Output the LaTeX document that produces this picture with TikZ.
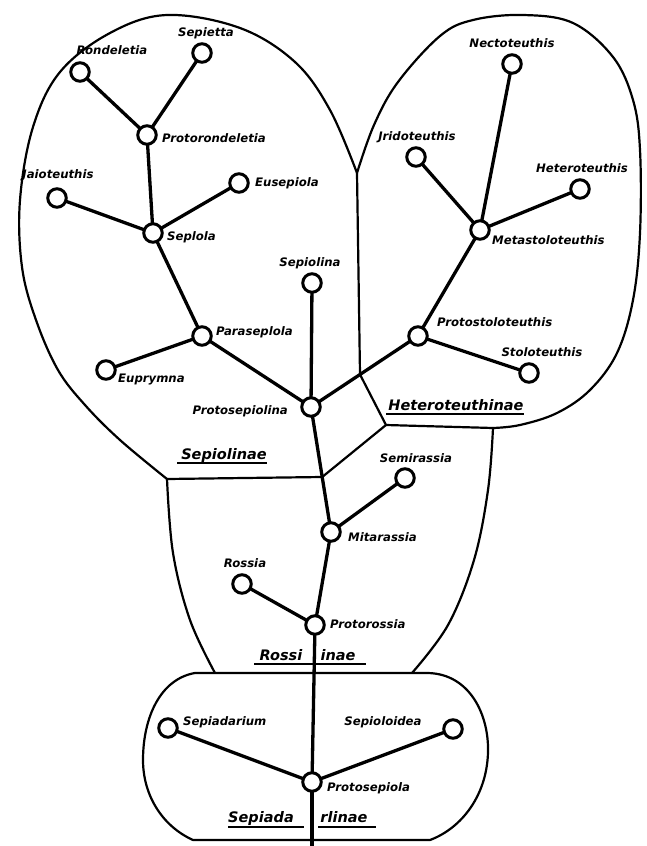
\documentclass[tikz,border=0pt]{standalone}
\usepackage{fontspec}
\setmainfont{DejaVu Sans}
\usetikzlibrary{calc}
\begin{document}
\begin{tikzpicture}[x=1pt,y=-1pt,
  taxon/.style={circle, draw, fill=white, line width=3pt, minimum size=18.5pt, inner sep=0pt},
  edge/.style={line width=3.3pt},
  bound/.style={line width=2.2pt, line join=round},
  lbl/.style={font=\fontsize{11.7}{13}\selectfont\bfseries\itshape, inner sep=0pt},
  grp/.style={font=\fontsize{14.5}{16}\selectfont\bfseries\itshape, inner sep=0pt, anchor=base},
  uline/.style={line width=2.2pt}]
\useasboundingbox (0,0) rectangle (646,846);
\fill[white] (0,0) rectangle (646,846);

% ---- taxa (positions) ----
\coordinate (ronP) at (80,72);
\coordinate (sepP) at (202,53);
\coordinate (prrP) at (147,135);
\coordinate (jaiP) at (57,198);
\coordinate (eusP) at (239,183);
\coordinate (splP) at (153,233);
\coordinate (snaP) at (312,283);
\coordinate (parP) at (202,336);
\coordinate (eupP) at (106,370);
\coordinate (pslP) at (311,407);
\coordinate (necP) at (512,64);
\coordinate (jriP) at (416,157);
\coordinate (hetP) at (580,189);
\coordinate (metP) at (480,230);
\coordinate (pstP) at (418,336);
\coordinate (stoP) at (529,373);
\coordinate (semP) at (405,478);
\coordinate (mitP) at (331,532);
\coordinate (rosP) at (242,584);
\coordinate (proP) at (315,625);
\coordinate (sdrP) at (168,728);
\coordinate (sdiP) at (453,729);
\coordinate (pseP) at (312,782);
\coordinate (bot) at (312,846);

% ---- region boundaries ----
\coordinate (cusp) at (357,173);
\coordinate (J2) at ($(pslP)!0.458!(pstP)$);
\coordinate (J3) at (386,425);
\coordinate (J4) at (493,428);
\coordinate (J1) at ($(pslP)!0.56!(mitP)$);
\coordinate (C1) at (167,479);

\draw[bound] plot[smooth, tension=0.6] coordinates {(167,479) (120,440) (85,405) (58,370) (36,320) (22,267) (20,200) (33,127) (60,72) (110,33) (167,15) (240,28) (295,62) (330,110) (357,173)};
\draw[bound] plot[smooth, tension=0.6] coordinates {(357,173) (374,125) (398,82) (440,36) (473,20) (523,15) (573,23) (613,57) (633,100) (640,150) (640,233) (633,300) (617,353) (590,390) (557,413) (520,425) (493,428)};
\draw[bound] (cusp) -- (J2);
\draw[bound] (J2) -- (J3) -- (J4);
\draw[bound] (J3) -- (J1);
\draw[bound] (C1) -- (J1);
\draw[bound] plot[smooth, tension=0.6] coordinates {(167,479) (173,553) (190,620) (215,673)};
\draw[bound] plot[smooth, tension=0.6] coordinates {(493,428) (488,490) (474,560) (448,625) (412,673)};
\draw[bound] (195,673) -- (428,673) .. controls (470,674) and (489,715) .. (488,752)
  .. controls (487,795) and (462,828) .. (430,840) -- (193,840)
  .. controls (162,826) and (143,795) .. (143,760)
  .. controls (143,718) and (160,679) .. (195,673) -- cycle;

% ---- edges ----
\draw[edge] (ronP) -- (prrP);
\draw[edge] (sepP) -- (prrP);
\draw[edge] (prrP) -- (splP);
\draw[edge] (jaiP) -- (splP);
\draw[edge] (eusP) -- (splP);
\draw[edge] (splP) -- (parP);
\draw[edge] (eupP) -- (parP);
\draw[edge] (parP) -- (pslP);
\draw[edge] (snaP) -- (pslP);
\draw[edge] (pslP) -- (pstP);
\draw[edge] (pstP) -- (metP);
\draw[edge] (metP) -- (necP);
\draw[edge] (metP) -- (jriP);
\draw[edge] (metP) -- (hetP);
\draw[edge] (pstP) -- (stoP);
\draw[edge] (pslP) -- (mitP);
\draw[edge] (semP) -- (mitP);
\draw[edge] (mitP) -- (proP);
\draw[edge] (rosP) -- (proP);
\draw[edge] (proP) -- (pseP);
\draw[edge] (sdrP) -- (pseP);
\draw[edge] (sdiP) -- (pseP);
\draw[edge] (pseP) -- (bot);

% ---- circles ----
\foreach \n in {ron,sep,prr,jai,eus,spl,sna,par,eup,psl,nec,jri,het,met,pst,sto,sem,mit,ros,pro,sdr,sdi,pse}
  \node[taxon] (\n) at (\n P) {};

% ---- labels ----
\node[lbl] (tRon) at (112,50) {Rondeletia};
\node[lbl] (tSep) at (206,33) {Sepietta};
\node[lbl, anchor=west] (tPrr) at (162,138) {Protorondeletia};
\node[lbl] (tJai) at (58,175) {Jaioteuthis};
\node[lbl, anchor=west] (tEus) at (255,183) {Eusepiola};
\node[lbl, anchor=west] (tSpl) at (167,237) {Seplola};
\node[lbl] (tSna) at (310,263) {Sepiolina};
\node[lbl, anchor=west] (tPar) at (216,332) {Paraseplola};
\node[lbl, anchor=west] (tEup) at (118,379) {Euprymna};
\node[lbl, anchor=east] (tPsl) at (288,411) {Protosepiolina};
\node[lbl] (tNec) at (512,43) {Nectoteuthis};
\node[lbl] (tJri) at (417,137) {Jridoteuthis};
\node[lbl] (tHet) at (582,168) {Heteroteuthis};
\node[lbl, anchor=west] (tMet) at (492,240) {Metastoloteuthis};
\node[lbl, anchor=west] (tPst) at (437,322) {Protostoloteuthis};
\node[lbl] (tSto) at (542,352) {Stoloteuthis};
\node[lbl] (tSem) at (416,458) {Semirassia};
\node[lbl, anchor=west] (tMit) at (348,537) {Mitarassia};
\node[lbl] (tRos) at (245,563) {Rossia};
\node[lbl, anchor=west] (tPro) at (330,624) {Protorossia};
\node[lbl, anchor=west] (tSdr) at (183,722) {Sepiadarium};
\node[lbl] (tSdi) at (383,722) {Sepioloidea};
\node[lbl, anchor=west] (tPse) at (327,788) {Protosepiola};

% ---- group labels ----
\node[grp] (gSep) at (224,459) {Sepiolinae};
\draw[uline] ([xshift=-4pt,yshift=-4pt]gSep.base west) -- ([yshift=-4pt]gSep.base east);
\node[grp] (gHet) at (456,410) {Heteroteuthinae};
\draw[uline] ([xshift=-2pt,yshift=-4pt]gHet.base west) -- ([yshift=-4pt]gHet.base east);
\node[grp] (gRo1) at (281,660) {Rossi};
\node[grp] (gRo2) at (338,660) {inae};
\draw[uline] ([xshift=-5pt,yshift=-4pt]gRo1.base west) -- ([xshift=10pt,yshift=-4pt]gRo2.base east);
\node[grp] (gSd1) at (261,822) {Sepiada};
\node[grp] (gSd2) at (344,822) {rlinae};
\draw[uline] ([yshift=-5pt]gSd1.base west) -- ([xshift=10pt,yshift=-5pt]gSd1.base east);
\draw[uline] ([xshift=-2pt,yshift=-5pt]gSd2.base west) -- ([xshift=8pt,yshift=-5pt]gSd2.base east);
\end{tikzpicture}
\end{document}
